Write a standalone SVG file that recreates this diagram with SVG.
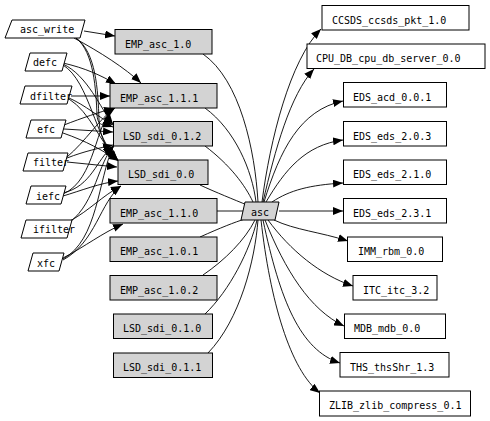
<svg xmlns="http://www.w3.org/2000/svg" width="490" height="421" viewBox="0 0 490 421">
<defs>
<style>
.t{font-family:"DejaVu Sans Mono","Liberation Mono",monospace;font-size:10px;fill:#000}
.g{fill:#d3d3d3;stroke:#000;stroke-width:1}
.w{fill:#fff;stroke:#000;stroke-width:1}
.e{fill:none;stroke:#000;stroke-width:0.9}
.ea{fill:none;stroke:#000;stroke-width:0.9;marker-end:url(#a)}
</style>
<marker id="a" markerWidth="11" markerHeight="8" refX="10" refY="4" orient="auto" markerUnits="userSpaceOnUse"><path d="M0,0 L10,4 L0,8 z" fill="#000"/></marker>
</defs>
<rect width="490" height="421" fill="#fff"/>
<g id="connectors">
<!-- left to middle -->
<path class="ea" d="M84,31 L115,36"/>
<path class="ea" d="M74,38 C100,52 125,68 141,83"/>
<path class="ea" d="M76,38 C96,52 98,90 99,120 C100,140 108,150 118,160"/>
<path class="ea" d="M76,38 C94,52 96,90 97,115 C98,128 105,124 113,127"/>
<path class="ea" d="M63,63 C85,68 100,75 116,84"/>
<path class="ea" d="M63,64 C88,76 100,108 113,124"/>
<path class="ea" d="M63,65 C90,82 95,140 118,160"/>
<path class="ea" d="M71,96 L110,96"/>
<path class="ea" d="M69,98 C85,105 100,118 113,125"/>
<path class="ea" d="M69,99 C90,112 100,142 118,161"/>
<path class="ea" d="M64,125 C82,118 100,112 114,108"/>
<path class="ea" d="M64,129 L113,132"/>
<path class="ea" d="M63,133 C86,141 102,150 119,161"/>
<path class="ea" d="M67,157 C85,142 100,118 115,108"/>
<path class="ea" d="M67,158 C85,151 100,148 113,145"/>
<path class="ea" d="M67,162 L117,167"/>
<path class="ea" d="M63,193 C92,186 96,160 113,146"/>
<path class="ea" d="M63,196 C80,191 100,183 118,181"/>
<path class="ea" d="M63,194 C96,180 95,122 114,108"/>
<path class="ea" d="M70,221 C90,210 102,196 121,186"/>
<path class="ea" d="M70,222 C96,202 98,162 114,146"/>
<path class="ea" d="M63,258 C86,246 102,233 123,224"/>
<path class="ea" d="M63,260 C96,242 100,202 121,186"/>
<path class="ea" d="M63,259 C98,240 98,180 113,147"/>
<!-- middle to asc -->
<path class="e" d="M203,54 C240,80 255,150 258,202"/>
<path class="e" d="M205,108 C235,130 252,170 256,202"/>
<path class="e" d="M205,146 C230,165 245,185 253,202"/>
<path class="e" d="M200,185 C215,192 235,200 247,205"/>
<path class="e" d="M217,211 L243,211"/>
<path class="e" d="M200,237 C220,228 235,222 245,219"/>
<path class="e" d="M203,275 C225,260 245,240 255,220"/>
<path class="e" d="M205,314 C230,290 250,250 257,220"/>
<path class="e" d="M208,353 C240,320 255,260 258,220"/>
<!-- asc to right -->
<path class="ea" d="M262,202 C270,140 290,60 321,29"/>
<path class="ea" d="M263,202 C275,150 290,95 314,69"/>
<path class="ea" d="M264,202 C280,150 300,110 343,101"/>
<path class="ea" d="M266,202 C285,170 305,145 343,140"/>
<path class="ea" d="M272,202 C290,190 310,185 343,183"/>
<path class="ea" d="M279,211 L343,211"/>
<path class="ea" d="M274,220 C295,230 320,232 348,241"/>
<path class="ea" d="M268,220 C290,250 320,275 353,286"/>
<path class="ea" d="M265,220 C285,270 310,310 344,326"/>
<path class="ea" d="M263,220 C280,300 300,350 340,363"/>
<path class="ea" d="M261,220 C270,300 290,370 320,393"/>
</g>
<g id="asc_write"><polygon class="w" points="12,20 85,20 80,38 5,38"/><text class="t" x="20" y="33">asc_write</text></g>
<g id="defc"><polygon class="w" points="30,53 67,53 62,71 25,71"/><text class="t" x="33" y="66">defc</text></g>
<g id="dfilter"><polygon class="w" points="25,86 72,86 67,104 20,104"/><text class="t" x="30" y="99.5">dfilter</text></g>
<g id="efc"><polygon class="w" points="31,120 66,120 61,138 26,138"/><text class="t" x="37" y="133">efc</text></g>
<g id="filter"><polygon class="w" points="28,153 68,153 63,171 23,171"/><text class="t" x="33" y="166">filter</text></g>
<g id="iefc"><polygon class="w" points="31,186 66,186 61,204 26,204"/><text class="t" x="36" y="199.5">iefc</text></g>
<g id="ifilter"><polygon class="w" points="26,220 72,220 67,238 21,238"/><text class="t" x="33" y="233">ifilter</text></g>
<g id="xfc"><polygon class="w" points="33,253 64,253 59,271 28,271"/><text class="t" x="37" y="266.5">xfc</text></g>
<g id="EMP_asc_1.0"><rect class="g" x="115" y="29.5" width="97" height="24.5"/><text class="t" x="125" y="47.5">EMP_asc_1.0</text></g>
<g id="EMP_asc_1.1.1"><rect class="g" x="110" y="83.5" width="107" height="24.5"/><text class="t" x="120" y="101.5">EMP_asc_1.1.1</text></g>
<g id="LSD_sdi_0.1.2"><rect class="g" x="113.5" y="121.5" width="99" height="24.5"/><text class="t" x="123" y="139.5">LSD_sdi_0.1.2</text></g>
<g id="LSD_sdi_0.0"><rect class="g" x="118" y="160" width="90" height="24.5"/><text class="t" x="128" y="178">LSD_sdi_0.0</text></g>
<g id="EMP_asc_1.1.0"><rect class="g" x="110" y="198.5" width="107" height="24.5"/><text class="t" x="120" y="216.5">EMP_asc_1.1.0</text></g>
<g id="EMP_asc_1.0.1"><rect class="g" x="110" y="237" width="107" height="24.5"/><text class="t" x="120" y="255">EMP_asc_1.0.1</text></g>
<g id="EMP_asc_1.0.2"><rect class="g" x="110" y="275.5" width="107" height="24.5"/><text class="t" x="120" y="293.5">EMP_asc_1.0.2</text></g>
<g id="LSD_sdi_0.1.0"><rect class="g" x="113.5" y="314" width="99" height="24.5"/><text class="t" x="123" y="332">LSD_sdi_0.1.0</text></g>
<g id="LSD_sdi_0.1.1"><rect class="g" x="113.5" y="353" width="99" height="24.5"/><text class="t" x="123" y="371">LSD_sdi_0.1.1</text></g>
<g id="asc"><polygon class="g" points="245,202 279,202 275,220 241,220"/><text class="t" x="251" y="216">asc</text></g>
<g id="CCSDS_ccsds_pkt_1.0"><rect class="w" x="322" y="5.5" width="147" height="24.5"/><text class="t" x="332" y="23.5">CCSDS_ccsds_pkt_1.0</text></g>
<g id="CPU_DB_cpu_db_server_0.0"><rect class="w" x="307" y="44" width="178" height="24.5"/><text class="t" x="316" y="62">CPU_DB_cpu_db_server_0.0</text></g>
<g id="EDS_acd_0.0.1"><rect class="w" x="343.5" y="82.5" width="103" height="24.5"/><text class="t" x="353" y="100.5">EDS_acd_0.0.1</text></g>
<g id="EDS_eds_2.0.3"><rect class="w" x="343.5" y="121.5" width="103" height="24.5"/><text class="t" x="353" y="139.5">EDS_eds_2.0.3</text></g>
<g id="EDS_eds_2.1.0"><rect class="w" x="343.5" y="160" width="103" height="24.5"/><text class="t" x="353" y="178">EDS_eds_2.1.0</text></g>
<g id="EDS_eds_2.3.1"><rect class="w" x="343.5" y="198.5" width="103" height="24.5"/><text class="t" x="353" y="216.5">EDS_eds_2.3.1</text></g>
<g id="IMM_rbm_0.0"><rect class="w" x="347.5" y="237" width="95" height="24.5"/><text class="t" x="358" y="255">IMM_rbm_0.0</text></g>
<g id="ITC_itc_3.2"><rect class="w" x="353" y="275.5" width="84" height="24.5"/><text class="t" x="363" y="293.5">ITC_itc_3.2</text></g>
<g id="MDB_mdb_0.0"><rect class="w" x="344.5" y="314" width="101" height="24.5"/><text class="t" x="354" y="332">MDB_mdb_0.0</text></g>
<g id="THS_thsShr_1.3"><rect class="w" x="340" y="352.5" width="109" height="24.5"/><text class="t" x="350" y="370.5">THS_thsShr_1.3</text></g>
<g id="ZLIB_zlib_compress_0.1"><rect class="w" x="319.5" y="391" width="151" height="25"/><text class="t" x="329" y="409">ZLIB_zlib_compress_0.1</text></g>
</svg>
